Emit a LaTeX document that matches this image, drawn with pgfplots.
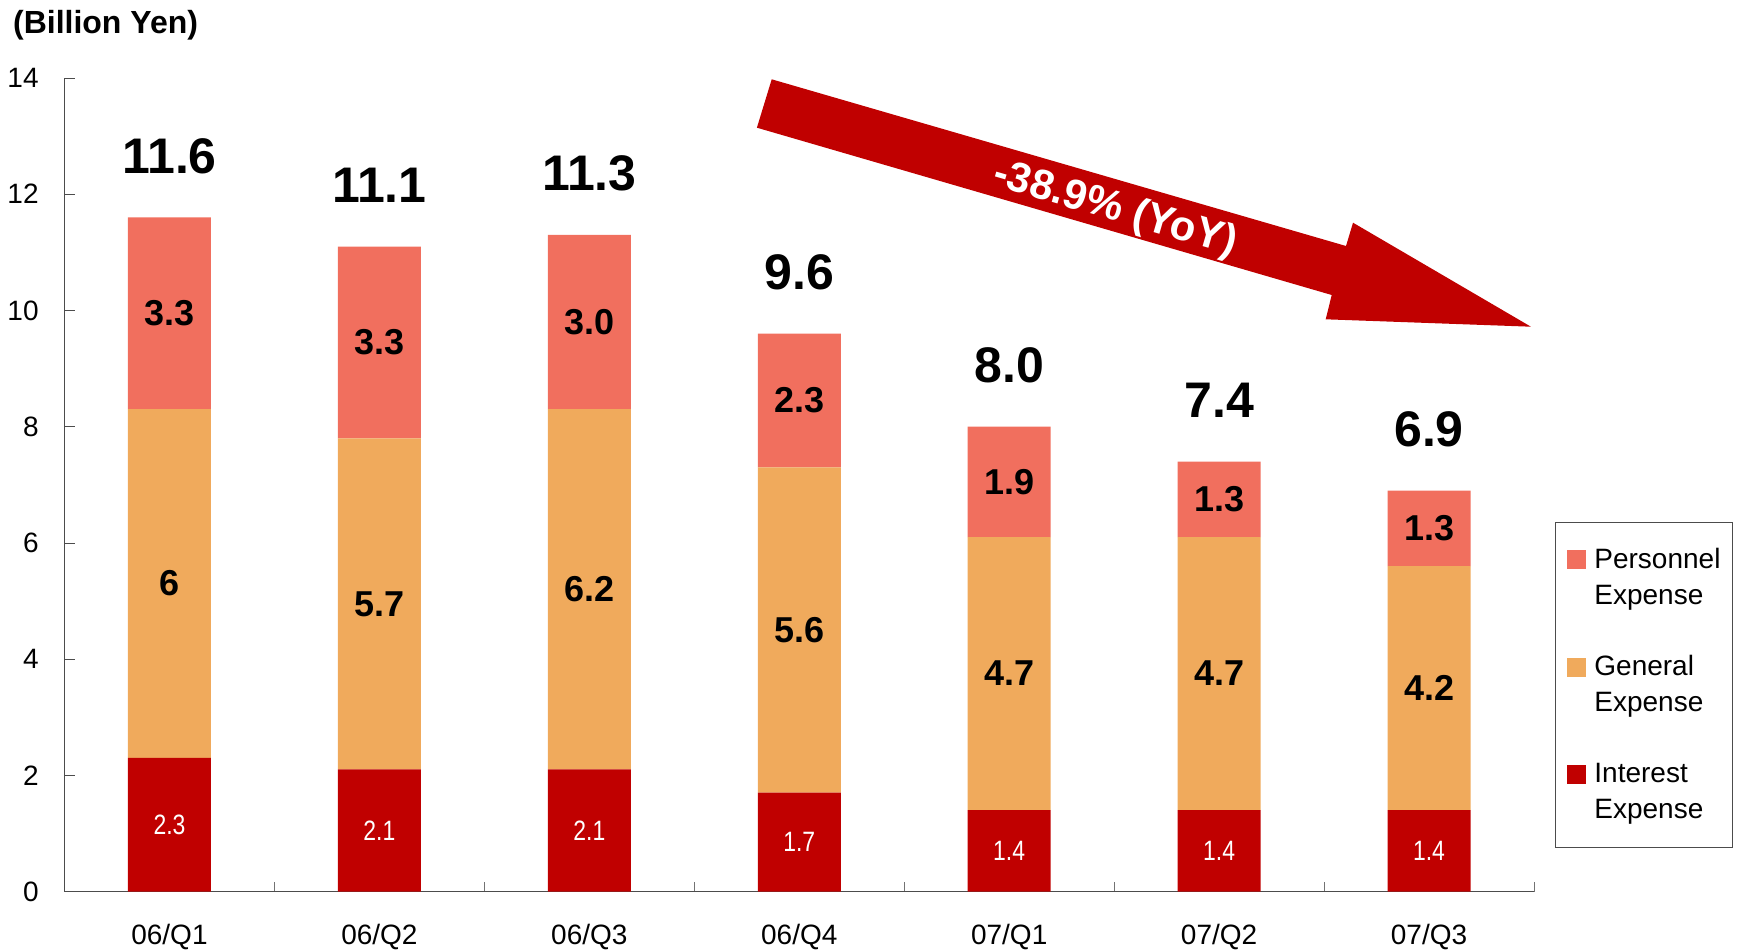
\documentclass[border=0pt]{standalone}
\usepackage{fontspec}
\setmainfont{Liberation Sans}
\newfontfamily\narrowfont[FakeStretch=0.82]{Liberation Sans}
\usepackage{pgfplots}
\usepackage{pgfplotstable}
\pgfplotsset{compat=1.18}
\definecolor{intc}{RGB}{192,0,0}
\definecolor{genc}{RGB}{240,170,92}
\definecolor{perc}{RGB}{241,111,94}
\definecolor{arrc}{RGB}{192,0,0}

\pgfplotstableread{
x int gen per tot intl genl perl totl
0 2.3 6.0 3.3 11.6 2.3 6 3.3 11.6
1 2.1 5.7 3.3 11.1 2.1 5.7 3.3 11.1
2 2.1 6.2 3.0 11.3 2.1 6.2 3.0 11.3
3 1.7 5.6 2.3 9.6 1.7 5.6 2.3 9.6
4 1.4 4.7 1.9 8.0 1.4 4.7 1.9 8.0
5 1.4 4.7 1.3 7.4 1.4 4.7 1.3 7.4
6 1.4 4.2 1.3 6.9 1.4 4.2 1.3 6.9
}\data

\begin{document}
\begin{tikzpicture}
\path[use as bounding box] (-32.25pt,-28.75pt) rectangle (839.25pt,445.75pt);
\begin{axis}[
  at={(0pt,0pt)}, anchor=south west,
  scale only axis, width=734.75pt, height=406.75pt,
  xmin=-0.5, xmax=6.5, ymin=0, ymax=14,
  ybar stacked, bar width=41.5pt,
  axis x line*=bottom, axis y line*=left,
  axis line style={draw=black!70},
  ytick={0,2,...,14},
  xtick={0,...,6},
  xticklabels={06/Q1,06/Q2,06/Q3,06/Q4,07/Q1,07/Q2,07/Q3},
  minor xtick={0.5,1.5,...,6.5},
  tick align=inside,
  major tick length=5pt, minor tick length=5pt,
  major x tick style={draw=none},
  minor x tick style={draw=black!55},
  major y tick style={draw=black!70},
  ticklabel style={font=\fontsize{14}{17}\selectfont},
  /pgf/number format/assume math mode=true,
  yticklabel style={anchor=east, inner sep=0pt, xshift=-12.75pt},
  xticklabel style={anchor=base, inner sep=0pt, yshift=-26.5pt},
  reverse legend,
  legend cell align=left,
  legend image code/.code={\fill[#1,draw=none] (0pt,4.25pt) rectangle (9.5pt,13.75pt);},
  legend style={at={(1.01429,0.05347)}, anchor=south west, draw=black!70,
    font=\fontsize{14}{18}\selectfont,
    nodes={inner sep=0pt, align=left},
    row sep=24.2pt, column sep=4pt,
    inner xsep=6pt, inner ysep=13pt},
]
\addplot[fill=intc, draw=none,
  point meta=explicit symbolic, nodes near coords,
  nodes near coords style={anchor=center,
    font=\narrowfont\fontsize{14}{17}\selectfont, text=white, inner sep=0pt}]
  table[x=x, y=int, meta=intl] {\data};
\addlegendentry{Interest\\Expense}
\addplot[fill=genc, draw=none,
  point meta=explicit symbolic, nodes near coords,
  nodes near coords style={anchor=center,
    font=\bfseries\fontsize{18}{21}\selectfont, text=black, inner sep=0pt}]
  table[x=x, y=gen, meta=genl] {\data};
\addlegendentry{General\\Expense}
\addplot[fill=perc, draw=none,
  point meta=explicit symbolic, nodes near coords,
  nodes near coords style={anchor=center,
    font=\bfseries\fontsize{18}{21}\selectfont, text=black, inner sep=0pt}]
  table[x=x, y=per, meta=perl] {\data};
\addlegendentry{Personnel\\Expense}
\end{axis}
\begin{axis}[
  at={(0pt,0pt)}, anchor=south west,
  scale only axis, width=734.75pt, height=406.75pt,
  xmin=-0.5, xmax=6.5, ymin=0, ymax=14,
  hide axis, clip=false,
]
\addplot[only marks, mark=none, draw=none,
  point meta=explicit symbolic, nodes near coords,
  nodes near coords style={anchor=base, yshift=22pt,
    font=\bfseries\fontsize{25}{30}\selectfont, text=black, inner sep=0pt}]
  table[x=x, y=tot, meta=totl] {\data};
\end{axis}
\node[anchor=base west, inner sep=0pt, font=\bfseries\fontsize{16}{19}\selectfont]
  at (-25.9pt,429.1pt) {(Billion Yen)};
\fill[arrc] (353.6pt,406.1pt) -- (640.75pt,322.75pt) -- (644.25pt,334.4pt)
  -- (733.2pt,282.4pt) -- (630.6pt,286.1pt) -- (633.6pt,298.25pt)
  -- (346.2pt,381.9pt) -- cycle;
\node[rotate=-16.2, text=white, font=\bfseries\fontsize{21}{25}\selectfont, inner sep=0pt]
  at (525.25pt,341pt) {-38.9\% (YoY)};
\end{tikzpicture}
\end{document}
